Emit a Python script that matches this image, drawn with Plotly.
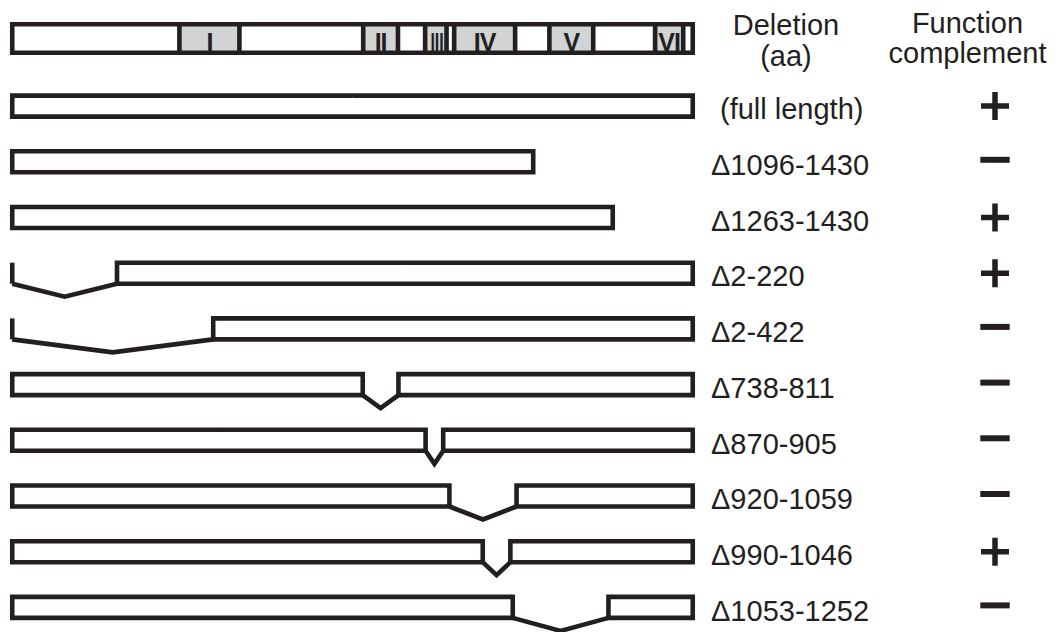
import plotly.graph_objects as go

# ---------------- data ----------------
protein_length = 1430

domain_names = ["I", "II", "III", "IV", "V", "VI"]
domain_starts = [352, 738, 868, 929, 1129, 1351]
domain_ends = [478, 811, 913, 1057, 1221, 1410]

construct_labels = ["(full length)", "\u03941096-1430", "\u03941263-1430", "\u03942-220",
                    "\u03942-422", "\u0394738-811", "\u0394870-905", "\u0394920-1059",
                    "\u0394990-1046", "\u03941053-1252"]
deletion_starts = [None, 1096, 1263, 2, 2, 738, 870, 920, 990, 1053]
deletion_ends = [None, 1430, 1430, 220, 422, 811, 905, 1059, 1046, 1252]
complement = ["+", "-", "+", "+", "-", "-", "-", "-", "+", "-"]

header_deletion = ["Deletion", "(aa)"]
header_function = ["Function", "complement"]

# ---------------- layout constants ----------------
W, H = 1058, 632
INK = "#231f20"
GRAY = "#d1d3d4"
LW = 4.6

X0_PX = 12.25          # pixel of aa 1
PX_PER_AA = 0.4762
ROW0_PX = 106.1        # pixel of row 0 centre
ROW_STEP = 55.7        # pixels per row


def px2x(px):
    return 1 + (px - X0_PX) / PX_PER_AA


def px2y(py):
    return (py - ROW0_PX) / ROW_STEP


U = 1.0 / ROW_STEP      # one pixel in y units
BAR_HH = 10.5 * U
DOM_HH = 14.25 * U
DOM_Y = px2y(38.5)
DIP = 13 * U

fig = go.Figure()


def rect_xy(x0, x1, yc, hh):
    xm = (x0 + x1) / 2
    return ([xm, x1, x1, x0, x0, xm],
            [yc - hh, yc - hh, yc + hh, yc + hh, yc - hh, yc - hh])


# domain fills
for s, e in zip(domain_starts, domain_ends):
    fig.add_trace(go.Scatter(
        x=[s, e, e, s, s], y=[DOM_Y - DOM_HH, DOM_Y - DOM_HH, DOM_Y + DOM_HH, DOM_Y + DOM_HH, DOM_Y - DOM_HH],
        mode="lines", fill="toself", fillcolor=GRAY, line=dict(width=0), hoverinfo="skip"))

# domain numerals (narrow boxes get thinner, tighter glyphs)
numeral_text = []
for name, s, e in zip(domain_names, domain_starts, domain_ends):
    if (e - s) * PX_PER_AA < 30 and len(name) > 2:
        numeral_text.append('<span style="letter-spacing:-2.5px">%s</span>' % name)
    else:
        numeral_text.append('<b><span style="letter-spacing:-1px">%s</span></b>' % name)
fig.add_trace(go.Scatter(
    x=[(s + e) / 2 for s, e in zip(domain_starts, domain_ends)],
    y=[px2y(45)] * len(domain_names),
    text=numeral_text, mode="text", textposition="middle center",
    textfont=dict(family="Liberation Sans, Arial", size=25, color=INK),
    hoverinfo="skip"))

# domain bar outline
xs, ys = rect_xy(1, protein_length, DOM_Y, DOM_HH)
for s, e in zip(domain_starts, domain_ends):
    for b in (s, e):
        xs += [None, b, b]
        ys += [None, DOM_Y - DOM_HH, DOM_Y + DOM_HH]
fig.add_trace(go.Scatter(x=xs, y=ys, mode="lines", line=dict(color=INK, width=LW), hoverinfo="skip"))

# construct outlines
for i, (s, e) in enumerate(zip(deletion_starts, deletion_ends)):
    yc = i
    top, bot = yc - BAR_HH, yc + BAR_HH
    xs, ys = [], []
    if s is None:
        px_, py_ = rect_xy(1, protein_length, yc, BAR_HH)
        xs += px_; ys += py_
    else:
        left_end = s - 1
        right_start = e + 1
        if left_end > 1:
            px_, py_ = rect_xy(1, left_end, yc, BAR_HH)
            xs += px_; ys += py_
        else:
            xs += [1, 1]; ys += [top, bot]
        if e < protein_length:
            px_, py_ = rect_xy(right_start, protein_length, yc, BAR_HH)
            xs += [None] + px_; ys += [None] + py_
            mid = (left_end + right_start) / 2
            xs += [None, left_end, mid, right_start]
            ys += [None, bot, bot + DIP, bot]
    fig.add_trace(go.Scatter(x=xs, y=ys, mode="lines", line=dict(color=INK, width=LW), hoverinfo="skip"))

# construct labels
lab_x = [px2x(720 if s is None else 711) for s in deletion_starts]
fig.add_trace(go.Scatter(
    x=lab_x, y=[i + 6 * U for i in range(len(construct_labels))],
    text=construct_labels, mode="text", textposition="middle right",
    textfont=dict(family="Liberation Sans, Arial", size=29, color=INK), hoverinfo="skip"))

# headers
fig.add_trace(go.Scatter(
    x=[px2x(786)] * 2 + [px2x(967.5)] * 2,
    y=[px2y(28), px2y(58.5), px2y(25.5), px2y(55.5)],
    text=header_deletion + header_function, mode="text", textposition="middle center",
    textfont=dict(family="Liberation Sans, Arial", size=29, color=INK), hoverinfo="skip"))

# complement signs
plus_rows = [i for i, c in enumerate(complement) if c == "+"]
minus_rows = [i for i, c in enumerate(complement) if c == "-"]
fig.add_trace(go.Scatter(
    x=[px2x(995)] * len(plus_rows), y=plus_rows, mode="markers",
    marker=dict(symbol="cross-thin", size=20, color=INK, line=dict(color=INK, width=5.5)),
    hoverinfo="skip"))
fig.add_trace(go.Scatter(
    x=[px2x(995)] * len(minus_rows), y=[r - 2 * U for r in minus_rows], mode="markers",
    marker=dict(symbol="line-ew", size=21, color=INK, line=dict(color=INK, width=6)),
    hoverinfo="skip"))

fig.update_layout(
    width=W, height=H, margin=dict(l=0, r=0, t=0, b=0),
    paper_bgcolor="white", plot_bgcolor="white", showlegend=False,
    xaxis=dict(range=[px2x(0), px2x(W)], visible=False, fixedrange=True),
    yaxis=dict(range=[px2y(H), px2y(0)], visible=False, fixedrange=True),
)

fig.write_html("out.html", config={"displayModeBar": False},
               post_script="document.body.style.margin='0px';document.body.style.overflow='hidden';")
